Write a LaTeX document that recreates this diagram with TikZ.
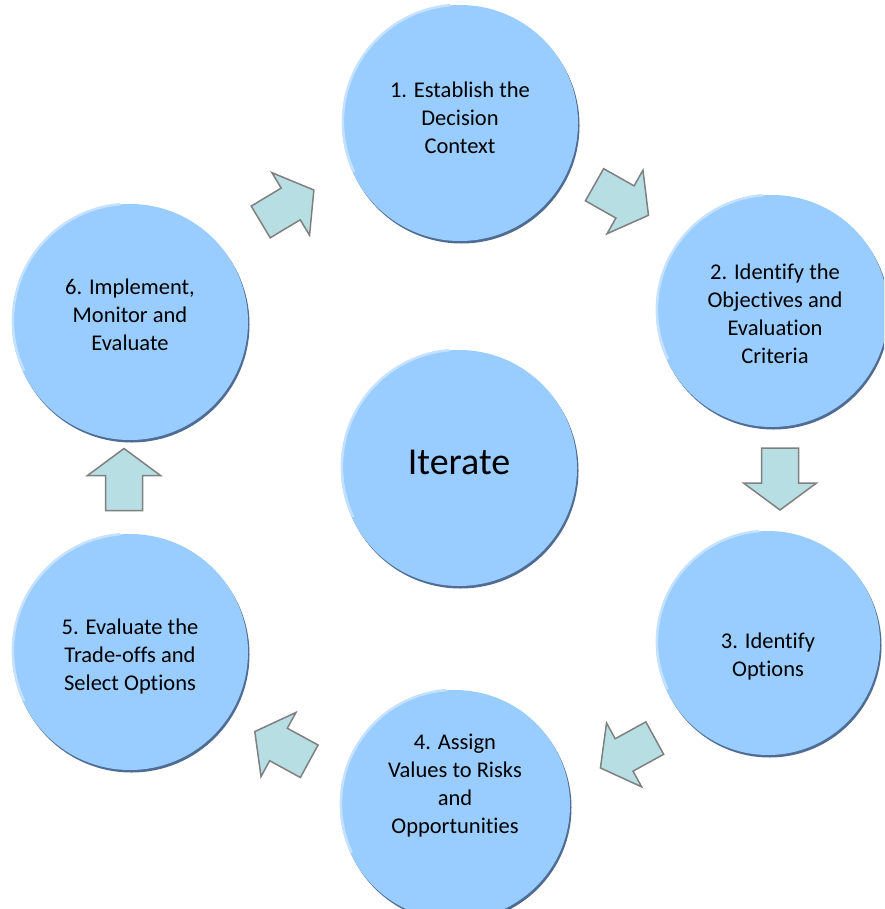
\documentclass[tikz,border=0pt]{standalone}
\usepackage{fontspec}
\setmainfont{Carlito}[Ligatures=NoCommon]
\usetikzlibrary{shadows}
\definecolor{circfill}{RGB}{153,204,255}
\definecolor{circshadow}{RGB}{78,108,148}
\definecolor{circlight}{RGB}{196,226,255}
\definecolor{arrfill}{RGB}{183,222,227}
\definecolor{arrline}{RGB}{128,128,128}
\begin{document}
\begin{tikzpicture}[x=1pt,y=-1pt]
\tikzset{
 bubble/.style={circle, fill=circfill, inner sep=0pt, minimum size=#1,
   general shadow={fill=circshadow, shadow xshift=1.5pt, shadow yshift=-2.5pt}},
 rim/.style={circlight, line width=2.5pt, line cap=round},
 steptext/.style={font=\fontsize{22.5}{28}\selectfont, align=center, text=black},
 blockarrow/.pic={\draw[fill=arrfill, draw=arrline, line width=1.5pt, line join=miter]
   (-31,-18.5) -- (4,-18.5) -- (4,-36.5) -- (31,0) -- (4,36.5) -- (4,18.5) -- (-31,18.5) -- cycle;}
}
\useasboundingbox (0,0) rectangle (884,909);
\fill[white] (0,0) rectangle (884,909);
\clip (0,0) rectangle (884,909);

% circles
\node[bubble=236pt] (c1) at (460,123) {};
\node[bubble=232pt] (c2) at (772,311) {};
\node[bubble=224pt] (c3) at (768,643) {};
\node[bubble=230pt] (c4) at (455,805) {};
\node[bubble=236pt] (c5) at (130,652) {};
\node[bubble=236pt] (c6) at (130,322) {};
\node[bubble=236pt] (c0) at (459,468) {};

% light rims on the upper-left edges
\foreach \n/\r in {c1/117, c2/115, c3/111, c4/114, c5/117, c6/117, c0/117}{
  \draw[rim] (\n.95) arc[start angle=95, end angle=205, radius=\r pt];
}

% texts
\node[steptext] (t1) at (460,118) {1. Establish the\\Decision\\Context};
\node[steptext] (t2) at (775,314) {2. Identify the\\Objectives and\\Evaluation\\Criteria};
\node[steptext] (t3) at (768,656) {3. Identify\\Options};
\node[steptext] (t4) at (455,786) {4. Assign\\Values to Risks\\and\\Opportunities};
\node[steptext] (t5) at (130,656) {5. Evaluate the\\Trade-offs and\\Select Options};
\node[steptext] (t6) at (130,315) {6. Implement,\\Monitor and\\Evaluate};
\node[steptext, font=\fontsize{38}{42}\selectfont] (t0) at (459,462) {Iterate};

% block arrows
\coordinate (a61) at (287.3,206);
\coordinate (a12) at (621.5,200);
\coordinate (a23) at (780,479);
\coordinate (a34) at (627.6,753);
\coordinate (a45) at (282,746.4);
\coordinate (a56) at (124,479.5);
\pic[rotate=31] at (a61) {blockarrow};
\pic[rotate=-29.5] at (a12) {blockarrow};
\pic[rotate=-90] at (a23) {blockarrow};
\pic[rotate=208.8] at (a34) {blockarrow};
\pic[rotate=151.4] at (a45) {blockarrow};
\pic[rotate=90] at (a56) {blockarrow};
\end{tikzpicture}
\end{document}
